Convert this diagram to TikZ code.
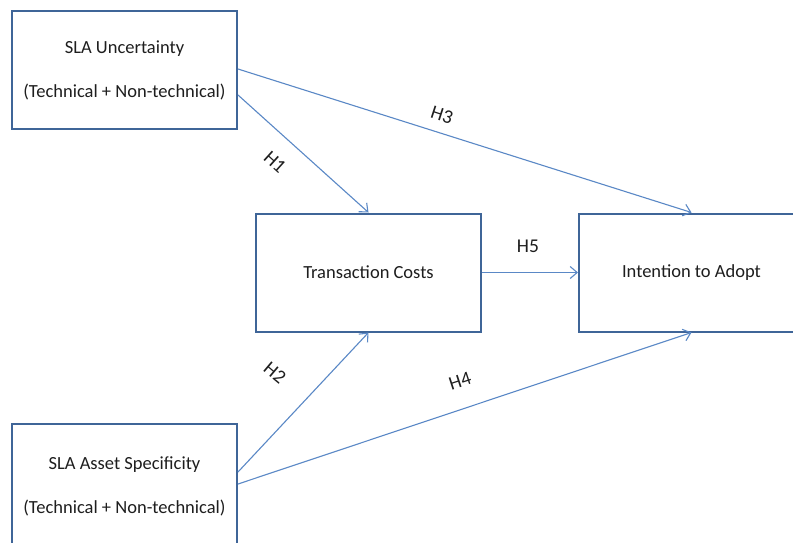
\documentclass[tikz,border=0pt]{standalone}
\usepackage{fontspec}
\setmainfont{Carlito}
\usetikzlibrary{arrows.meta}
\definecolor{boxline}{HTML}{3F6598}
\definecolor{arrowline}{HTML}{5A88C6}
\definecolor{inktext}{HTML}{1E1E1E}
\begin{document}
\begin{tikzpicture}[x=1pt,y=-1pt,
  construct/.style={draw=boxline,line width=2pt,fill=white,
    minimum width=225pt,minimum height=118pt,inner sep=0pt,
    align=center,text=inktext,
    font=\fontsize{18.5}{22.5}\selectfont},
  path/.style={draw=arrowline,line width=1.1pt,
    -{Straight Barb[length=7pt,width=12pt,line width=1.1pt]}},
  hyp/.style={text=inktext,inner sep=0pt,font=\fontsize{19.5}{22}\selectfont}]
\useasboundingbox (0,0) rectangle (793,542);
\clip (0,0) rectangle (793,542);
\fill[white] (0,0) rectangle (793,542);

% constructs of the research model
\node[construct] (unc) at (124.5,70)
  {SLA Uncertainty\\[21.5pt](Technical + Non-technical)};
\node[construct] (tc) at (368.5,272.5) {Transaction Costs};
\node[construct] (ita) at (691.5,272.5) {Intention to Adopt};
\node[construct,minimum height=124pt] (spec) at (124.5,486)
  {SLA Asset Specificity\\[21.5pt](Technical + Non-technical)};

% hypothesised paths
\draw[path] ([yshift=1pt]unc.east) -- (ita.north);
\draw[path] ([yshift=-25pt]unc.east) -- (tc.north);
\draw[path] (tc.east) -- (ita.west);
\draw[path] ([yshift=14pt]spec.east) -- (tc.south);
\draw[path] ([yshift=2pt]spec.east) -- (ita.south);

% hypothesis labels
\node[hyp,rotate=-42] (h1) at (275,162) {H1};
\node[hyp,rotate=-40] (h2) at (275,373) {H2};
\node[hyp,rotate=-18] (h3) at (442,115) {H3};
\node[hyp,rotate=18] (h4) at (460,381) {H4};
\node[hyp] (h5) at (528,246) {H5};
\end{tikzpicture}
\end{document}
